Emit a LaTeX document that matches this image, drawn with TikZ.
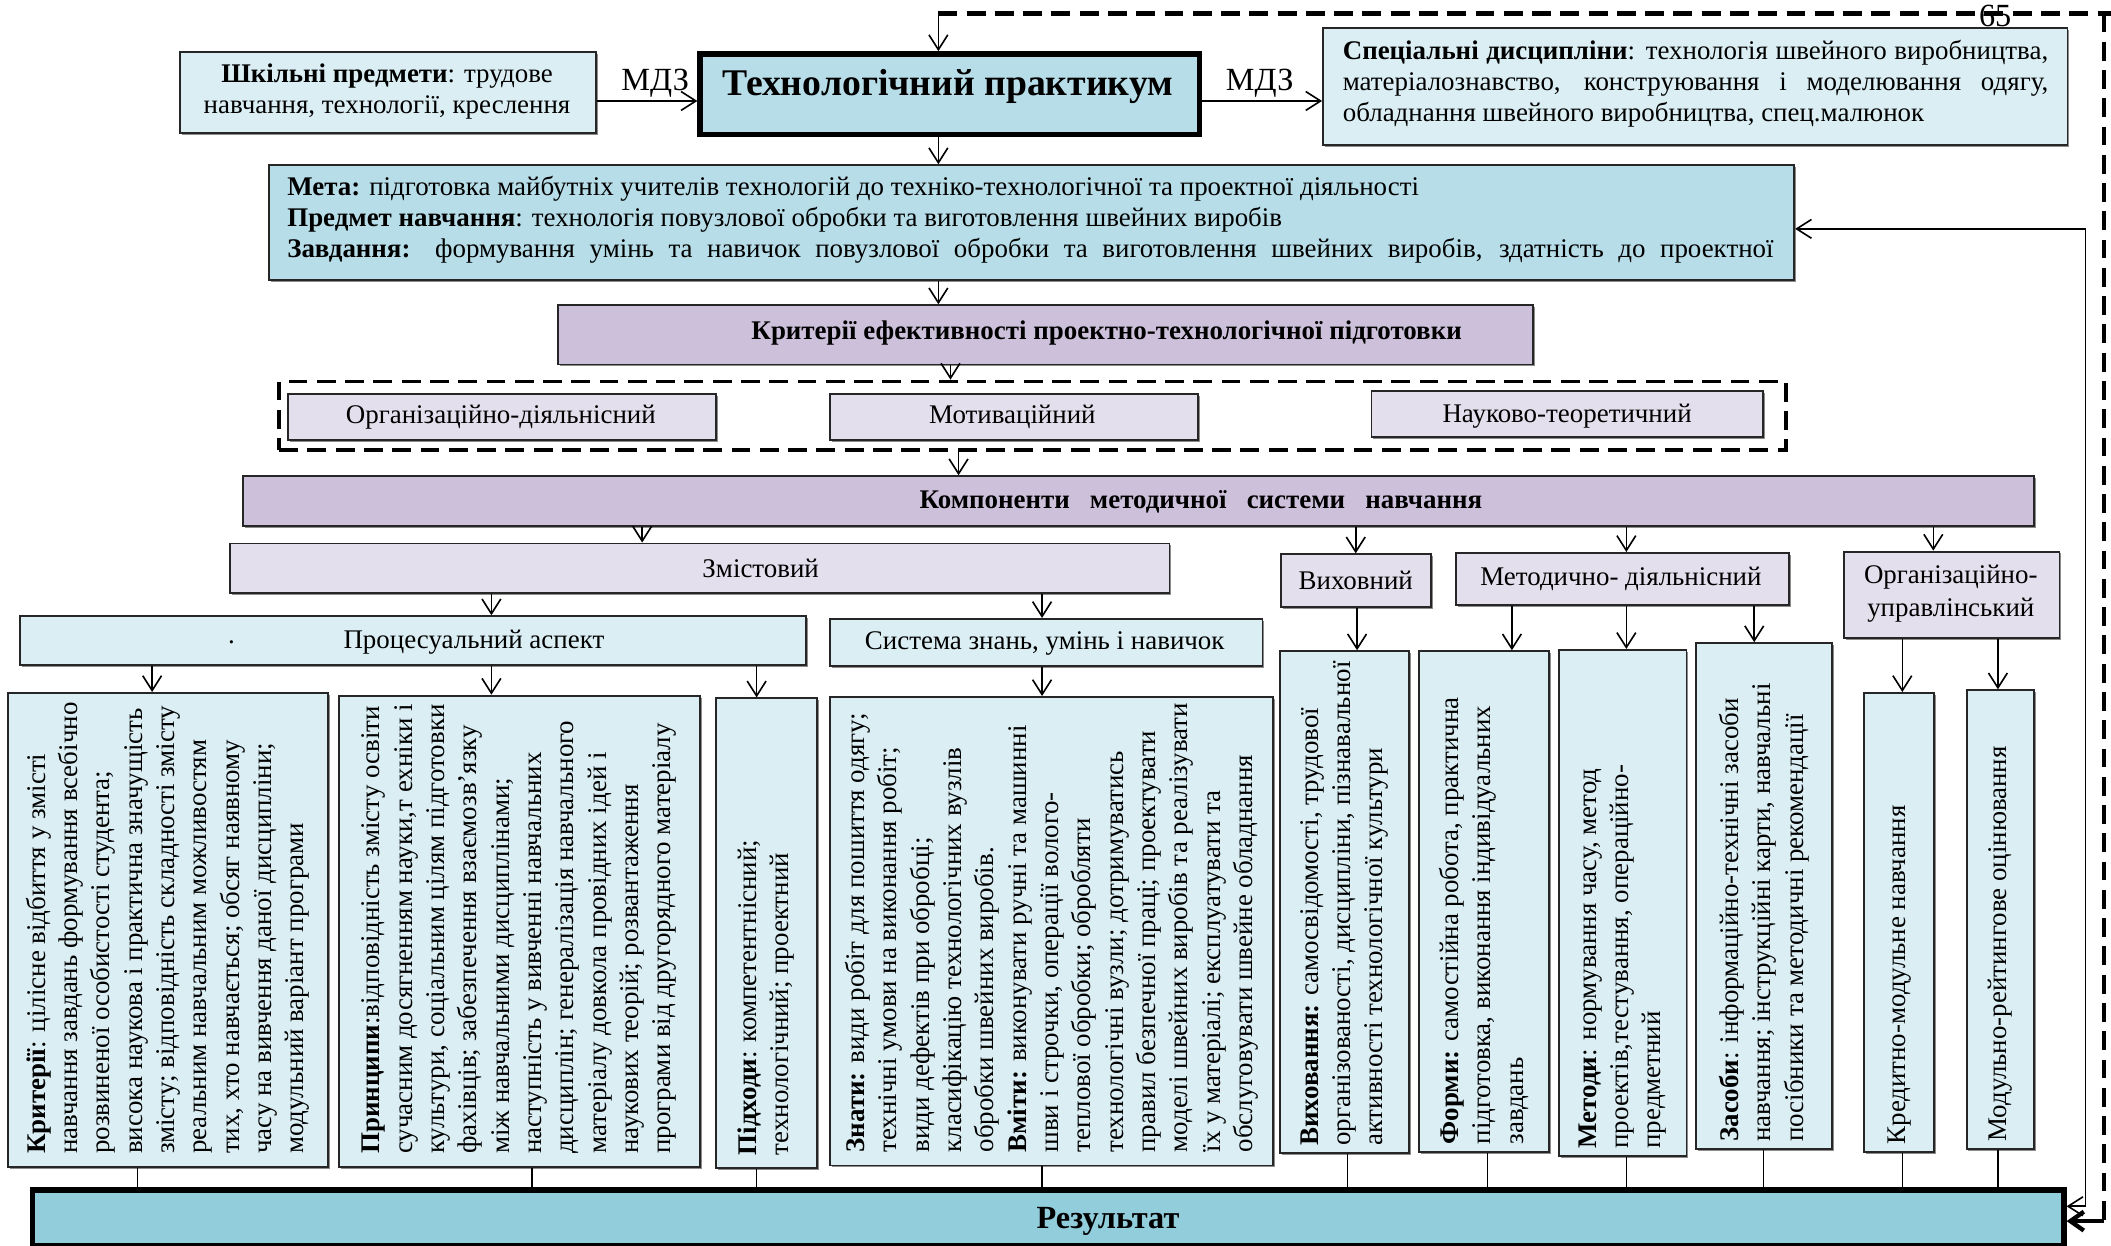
\documentclass[tikz,border=0pt]{standalone}
\usepackage{fontspec}
\setmainfont{Liberation Serif}
\usetikzlibrary{arrows.meta,shadows,calc}
\definecolor{lblue}{HTML}{DAEEF3}
\definecolor{mblue}{HTML}{B7DDE8}
\definecolor{dblue}{HTML}{92CDDC}
\definecolor{mpurp}{HTML}{CCC0DA}
\definecolor{lpurp}{HTML}{E4DFEC}
\tikzset{
  base/.style={draw=black!85, line width=0.7pt, inner sep=0pt},
  shd/.style={drop shadow={shadow xshift=0.7pt,shadow yshift=-0.7pt,fill=black!45,opacity=1}},
  lbl/.style={base, fill=lblue, shd},
  lpl/.style={base, fill=lpurp, shd},
  mpl/.style={base, fill=mpurp, shd},
  mbl/.style={base, fill=mblue, shd},
  thickbox/.style={draw=black, line width=2pt, inner sep=0pt},
  dashbox/.style={draw=black, line width=1.4pt, dash pattern=on 7pt off 3.5pt, inner sep=0pt},
  arr/.style={line width=0.6pt, -{Straight Barb[length=5.5pt,width=7pt]}},
  barr/.style={line width=0.6pt, {Straight Barb[length=5.5pt,width=7pt]}-{Straight Barb[length=5.5pt,width=7pt]}},
  ln/.style={line width=0.6pt},
  dsh/.style={line width=1.6pt, dash pattern=on 7pt off 3.5pt},
  lab/.style={inner sep=0pt, font=\fontsize{10}{12}\selectfont},
  body/.style={inner sep=0pt, font=\fontsize{10}{11.5}\selectfont},
  vt/.style={rotate=90, anchor=west, align=left, inner sep=0pt, font=\fontsize{10}{12}\selectfont},
}
\newcommand\mybox[6]{\node[#6,anchor=north west,minimum width={(#4-#2)*0.5pt},minimum height={(#5-#3)*0.5pt}] (#1) at (#2,#3) {};}
\begin{document}
\begin{tikzpicture}[x=0.5pt,y=-0.5pt]
\useasboundingbox (0,0) rectangle (1568,925);
% ---------- top row
\mybox{shk}{133}{38}{442}{98}{lbl}
\node[body, align=center] at (287.5,68) {\textbf{Шкільні предмети}: трудове\\навчання, технології, креслення};
\mybox{tech}{518}{38}{889}{98}{thickbox, fill=mblue}
\node[inner sep=0pt, font=\bfseries\fontsize{14}{16}\selectfont] at (704,64) {Технологічний практикум};
\mybox{spec}{982}{20}{1535}{107}{lbl}
\node[body, anchor=west, align=left] at (997,62) {\makebox[262pt][s]{\textbf{Спеціальні дисципліни}: технологія швейного виробництва,}\\\makebox[262pt][s]{матеріалознавство, конструювання і моделювання одягу,}\\обладнання швейного виробництва, спец.малюнок};
\node[inner sep=0pt, font=\fontsize{12}{14}\selectfont] at (1482,12) {65};
\draw[arr] (shk.east |- 0,75) -- node[above=1pt, inner sep=0pt, pos=0.58, font=\fontsize{12}{14}\selectfont]{МДЗ} (tech.west |- 0,75);
\draw[arr] (tech.east |- 0,75) -- node[above=1pt, inner sep=0pt, pos=0.48, font=\fontsize{12}{14}\selectfont]{МДЗ} (spec.west |- 0,75);
% ---------- meta
\mybox{meta}{199}{122}{1332}{207}{mbl}
\node[body, anchor=west, align=left] at (213,163) {\textbf{Мета:} підготовка майбутніх учителів технологій до техніко-технологічної та проектної діяльності\\
\textbf{Предмет навчання}: технологія повузлової обробки та виготовлення швейних виробів\\
\makebox[552pt][s]{\textbf{Завдання:} формування умінь та навичок повузлової обробки та виготовлення швейних виробів, здатність до проектної}};
\draw[arr] (tech.south -| 697,0) -- (meta.north -| 697,0);
% ---------- criteria
\mybox{crit}{414}{226}{1138}{270}{mpl}
\node[inner sep=0pt, font=\bfseries\fontsize{10}{12}\selectfont] at (822,247) {Критерії ефективності проектно-технологічної підготовки};
\draw[arr] (meta.south -| 697,0) -- (crit.north -| 697,0);
\mybox{dbox}{206}{282}{1325}{333}{dashbox}
\draw[arr] (crit.south -| 706,0) -- (dbox.north -| 706,0);
\mybox{c1}{213}{292}{531}{326}{lpl}
\node[lab] at (372,310) {Організаційно-діяльнісний};
\mybox{c2}{616}{292}{889}{326}{lpl}
\node[lab] at (752,310) {Мотиваційний};
\mybox{c3}{1018}{290}{1309}{324}{lpl}
\node[lab] at (1164,309) {Науково-теоретичний};
% ---------- components
\mybox{komp}{180}{353}{1510}{390}{mpl}
\node[inner sep=0pt, font=\bfseries\fontsize{10}{12}\selectfont] at (892,373) {Компоненти~~~методичної~~~системи~~~навчання};
\draw[arr] (dbox.south -| 712,0) -- (komp.north -| 712,0);
\mybox{zmist}{170}{403}{868}{440}{lpl}
\node[lab] at (565,422) {Змістовий};
\mybox{vykh}{951}{411}{1062}{450}{lpl}
\node[lab] at (1007,431) {Виховний};
\mybox{metod}{1081}{410}{1328}{449}{lpl}
\node[lab] at (1204,430) {Методично- діяльнісний};
\mybox{orgu}{1369}{409}{1529}{473}{lpl}
\node[lab, align=center] at (1449,441) {Організаційно-\\управлінський};
\draw[arr] (komp.south -| 477,0) -- (zmist.north -| 477,0);
\draw[arr] (komp.south -| 1007,0) -- (vykh.north -| 1007,0);
\draw[arr] (komp.south -| 1208,0) -- (metod.north -| 1208,0);
\draw[arr] (komp.south -| 1436,0) -- (orgu.north -| 1436,0);
% ---------- second level
\mybox{proc}{14}{457}{598}{493}{lbl}
\node[lab] at (172,477) {.};
\node[lab] at (352,477) {Процесуальний аспект};
\mybox{sys}{616}{459}{937}{494}{lbl}
\node[lab] at (776,478) {Система знань, умінь і навичок};
\draw[arr] (zmist.south -| 365,0) -- (proc.north -| 365,0);
\draw[arr] (zmist.south -| 774,0) -- (sys.north -| 774,0);
% ---------- vertical boxes
\mybox{v1}{5}{514}{243}{866}{lbl}
\mybox{v2}{251}{516}{519}{866}{lbl}
\mybox{v3}{531}{518}{606}{867}{lbl}
\mybox{v4}{616}{517}{945}{865}{lbl}
\mybox{v5}{950}{483}{1046}{856}{lbl}
\mybox{v6}{1053}{483}{1150}{855}{lbl}
\mybox{v7}{1157}{482}{1252}{858}{lbl}
\mybox{v8}{1259}{477}{1360}{853}{lbl}
\mybox{v9}{1384}{514}{1436}{855}{lbl}
\mybox{v10}{1460}{512}{1510}{853}{lbl}
\node[vt] at ([yshift=5pt]v1.south) {\textbf{Критерії}: цілісне відбиття у змісті\\навчання завдань формування всебічно\\розвиненої особистості студента;\\висока наукова і практична значущість\\змісту; відповідність складності змісту\\реальним навчальним можливостям\\тих, хто навчається; обсяг наявному\\часу на вивчення даної дисципліни;\\модульний варіант програми};
\node[vt] at ([yshift=5pt]v2.south) {\textbf{Принципи}:відповідність змісту освіти\\сучасним досягненням науки,т ехніки і\\культури, соціальним цілям підготовки\\фахівців; забезпечення взаємозв’язку\\між навчальними дисциплінами;\\наступність у вивченні навчальних\\дисциплін; генералізація навчального\\матеріалу довкола провідних ідей і\\наукових теорій; розвантаження\\програми від другорядного матеріалу};
\node[vt] at ([yshift=5pt]v3.south) {\textbf{Підходи}: компетентнісний;\\технологічний; проектний};
\node[vt] at ([yshift=5pt]v4.south) {\textbf{Знати:} види робіт для пошиття одягу;\\технічні умови на виконання робіт;\\види дефектів при обробці;\\класифікацію технологічних вузлів\\обробки швейних виробів.\\\textbf{Вміти:} виконувати ручні та машинні\\шви і строчки, операції волого-\\теплової обробки; обробляти\\технологічні вузли; дотримуватись\\правил безпечної праці; проектувати\\моделі швейних виробів та реалізувати\\їх у матеріалі; експлуатувати та\\обслуговувати швейне обладнання};
\node[vt] at ([yshift=3pt]v5.south) {\textbf{Виховання:} самосвідомості, трудової\\організованості, дисципліни, пізнавальної\\активності технологічної культури};
\node[vt] at ([yshift=3pt]v6.south) {\textbf{Форми:} самостійна робота, практична\\підготовка, виконання індивідуальних\\завдань};
\node[vt] at ([yshift=3pt]v7.south) {\textbf{Методи}: нормування часу, метод\\проектів,тестування, операційно-\\предметний};
\node[vt] at ([yshift=3pt]v8.south) {\textbf{Засоби}: інформаційно-технічні засоби\\навчання; інструкційні карти, навчальні\\посібники та методичні рекомендації};
\node[vt] at ([yshift=3pt]v9.south) {Кредитно-модульне навчання};
\node[vt] at ([yshift=3pt]v10.south) {Модульно-рейтингове оцінювання};
\draw[arr] (proc.south -| 113,0) -- (v1.north -| 113,0);
\draw[arr] (proc.south -| 365,0) -- (v2.north -| 365,0);
\draw[arr] (proc.south -| 562,0) -- (v3.north -| 562,0);
\draw[arr] (sys.south -| 774,0) -- (v4.north -| 774,0);
\draw[arr] (vykh.south -| 1008,0) -- (v5.north -| 1008,0);
\draw[arr] (metod.south -| 1123,0) -- (v6.north -| 1123,0);
\draw[arr] (metod.south -| 1208,0) -- (v7.north -| 1208,0);
\draw[arr] (metod.south -| 1303,0) -- (v8.north -| 1303,0);
\draw[arr] (orgu.south -| 1413,0) -- (v9.north -| 1413,0);
\draw[arr] (orgu.south -| 1484,0) -- (v10.north -| 1484,0);
% ---------- result
\mybox{res}{22}{882}{1531}{923}{thickbox, fill=dblue}
\node[inner sep=0pt, font=\bfseries\fontsize{12}{14}\selectfont] at (823,907) {Результат};
\foreach \v/\x in {v1/102,v2/395,v3/562,v4/774,v5/1001,v6/1105,v7/1208,v8/1310,v9/1413,v10/1484}
  \draw[ln] (\v.south -| \x,0) -- (res.north -| \x,0);
% ---------- feedback lines
\coordinate (fb1) at (1549,170);
\coordinate (fb2) at (1549,896);
\draw[barr] (meta.east |- fb1) -- (fb1) -- (fb2) -- (res.east |- fb2);
\coordinate (dt0) at (697,10);
\coordinate (dt1) at (1563,10);
\coordinate (dt2) at (1563,907);
\draw[arr] (dt0) -- (tech.north -| dt0);
\draw[dsh] (dt0) -- (1568,10);
\draw[dsh] (dt1) -- (dt2);
\draw[line width=1.6pt, -{Straight Barb[length=5pt,width=7pt]}] (dt2) -- (res.east |- dt2);
\end{tikzpicture}
\end{document}
